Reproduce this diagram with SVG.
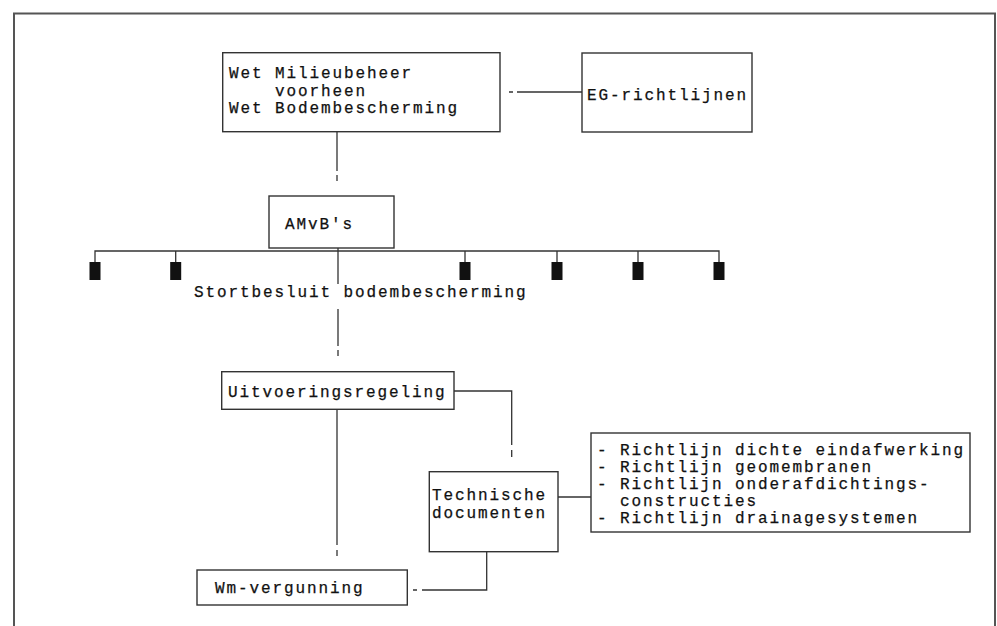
<svg xmlns="http://www.w3.org/2000/svg" width="997" height="626" viewBox="0 0 997 626">
<style>
.bg{fill:#fff}
.frame{fill:none;stroke:#555;stroke-width:2}
.box{fill:none;stroke:#333;stroke-width:1.4}
.ln{fill:none;stroke:#333;stroke-width:1.3}
.blk{fill:#111}
text{font-family:"Liberation Mono","DejaVu Sans Mono",monospace;font-size:16px;letter-spacing:1.9px;fill:#111;stroke:#111;stroke-width:0.25}
</style>
<rect class="bg" x="0" y="0" width="997" height="626"/>
<path class="frame" d="M14,626 V13.5 H995 V626"/>
<g id="connectors">
  <path class="ln" d="M509,92 H513 M517,92 H582"/>
  <path class="ln" d="M337,132 V171 M337,175 V181"/>
  <path class="ln" d="M95,262 V251 H719 V262 M175.7,251 V262 M465,251 V262 M557,251 V262 M638,251 V262"/>
  <path class="ln" d="M338,248 V284 M338,309 V346 M338,350 V356"/>
  <path class="ln" d="M454,391 H511.7 V445 M511.7,450 V457"/>
  <path class="ln" d="M337,409 V545 M337,550 V556"/>
  <path class="ln" d="M486.7,552 V590 H422 M417,590 H413"/>
  <path class="ln" d="M558,497 H591"/>
</g>
<g id="wet-milieubeheer">
  <rect class="box" x="222.7" y="52.7" width="277.3" height="79"/>
  <text x="229" y="78">Wet Milieubeheer</text>
  <text x="275" y="96">voorheen</text>
  <text x="229" y="113">Wet Bodembescherming</text>
</g>
<g id="eg-richtlijnen">
  <rect class="box" x="582" y="53" width="170" height="79"/>
  <text x="587" y="100">EG-richtlijnen</text>
</g>
<g id="amvb">
  <rect class="box" x="269" y="196" width="125" height="52"/>
  <text x="285" y="229">AMvB's</text>
</g>
<g id="stortbesluit-items">
  <rect class="blk" x="89.5" y="262" width="11" height="18"/>
  <rect class="blk" x="170.2" y="262" width="11" height="18"/>
  <rect class="blk" x="459.5" y="262" width="11" height="18"/>
  <rect class="blk" x="551.5" y="262" width="11" height="18"/>
  <rect class="blk" x="632.5" y="262" width="11" height="18"/>
  <rect class="blk" x="713.5" y="262" width="11" height="18"/>
</g>
<g id="stortbesluit">
  <text x="194" y="297">Stortbesluit bodembescherming</text>
</g>
<g id="uitvoeringsregeling">
  <rect class="box" x="221.7" y="371.7" width="232.3" height="37.6"/>
  <text x="228" y="397">Uitvoeringsregeling</text>
</g>
<g id="technische-documenten">
  <rect class="box" x="429.3" y="471.7" width="128.7" height="80"/>
  <text x="432" y="500">Technische</text>
  <text x="432" y="517.5">documenten</text>
</g>
<g id="richtlijnen">
  <rect class="box" x="591" y="433" width="379" height="99"/>
  <text x="597" y="455">- Richtlijn dichte eindafwerking</text>
  <text x="597" y="472">- Richtlijn geomembranen</text>
  <text x="597" y="489">- Richtlijn onderafdichtings-</text>
  <text x="620" y="506">constructies</text>
  <text x="597" y="523">- Richtlijn drainagesystemen</text>
</g>
<g id="wm-vergunning">
  <rect class="box" x="197" y="570" width="210.3" height="35"/>
  <text x="215" y="593">Wm-vergunning</text>
</g>
</svg>
